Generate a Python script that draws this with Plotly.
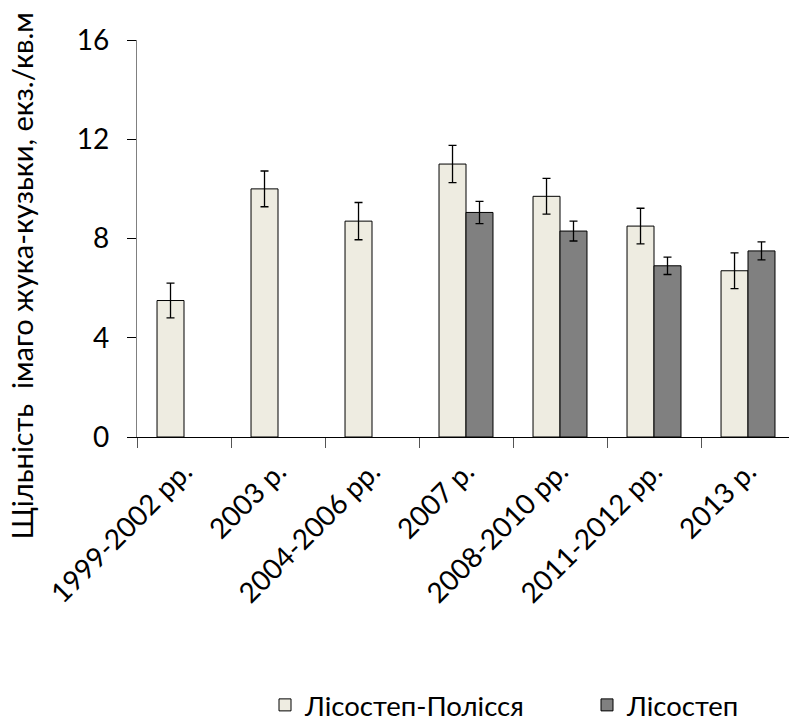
import plotly.graph_objects as go

# Periods of observation
categories = ["1999-2002 рр.", "2003 р.", "2004-2006 рр.", "2007 р.",
              "2008-2010 рр.", "2011-2012 рр.", "2013 р."]

# Mean density of adult cockchafers (ind./sq.m) and error margins
forest_polissia = [5.5, 10.0, 8.7, 11.0, 9.7, 8.5, 6.7]
forest_polissia_err = [0.7, 0.72, 0.75, 0.75, 0.72, 0.72, 0.72]

forest_steppe = [None, None, None, 9.05, 8.3, 6.9, 7.5]
forest_steppe_err = [0, 0, 0, 0.45, 0.4, 0.35, 0.36]

series_names = ["Лісостеп-Полісся", "Лісостеп"]
y_ticks = [0, 4, 8, 12, 16]
y_title = "Щільність\u00a0 імаго жука-кузьки, екз./кв.м"

FONT = "Lato"

fig = go.Figure()
fig.add_trace(go.Bar(
    name=series_names[0], x=categories, y=forest_polissia,
    marker=dict(color="#EEECE1", line=dict(color="black", width=1)),
    error_y=dict(type="data", array=forest_polissia_err, color="black",
                 thickness=1.3, width=4),
))
fig.add_trace(go.Bar(
    name=series_names[1], x=categories, y=forest_steppe,
    marker=dict(color="#808080", line=dict(color="black", width=1)),
    error_y=dict(type="data", array=forest_steppe_err, color="black",
                 thickness=1.3, width=4),
))

fig.update_layout(
    width=789, height=724,
    margin=dict(l=137, r=0, t=40, b=287, autoexpand=False),
    paper_bgcolor="white", plot_bgcolor="white",
    barmode="group", bargap=0.426, bargroupgap=0,
    font=dict(family=FONT, color="black", size=28),
    showlegend=True,
    legend=dict(orientation="h", xref="container", yref="container",
                x=265 / 789, y=19 / 724, xanchor="left", yanchor="middle",
                font=dict(size=27.5), entrywidth=277, entrywidthmode="pixels",
                itemwidth=30, traceorder="normal"),
    annotations=[dict(text=y_title, xref="paper", yref="paper",
                      x=-116 / 652, y=(437 - 276.5) / 397,
                      xanchor="center", yanchor="middle", textangle=-90,
                      showarrow=False, font=dict(size=29, family=FONT))],
)

fig.update_xaxes(
    type="category", range=[-0.5, 6.436],
    showline=True, linecolor="black", linewidth=1.3,
    ticks="outside", tickson="boundaries", ticklen=10, tickcolor="#555555",
    tickangle=-45, tickfont=dict(size=28), ticklabelstandoff=6,
    showgrid=False,
)
fig.update_yaxes(
    range=[0, 16], tickvals=y_ticks, ticktext=[str(v) for v in y_ticks],
    showline=True, linecolor="#808080", linewidth=1.3,
    ticks="outside", ticklen=9, tickcolor="black",
    tickfont=dict(size=28), ticklabelstandoff=12,
    showgrid=False, zeroline=False,
)

fig.write_html("out.html")
